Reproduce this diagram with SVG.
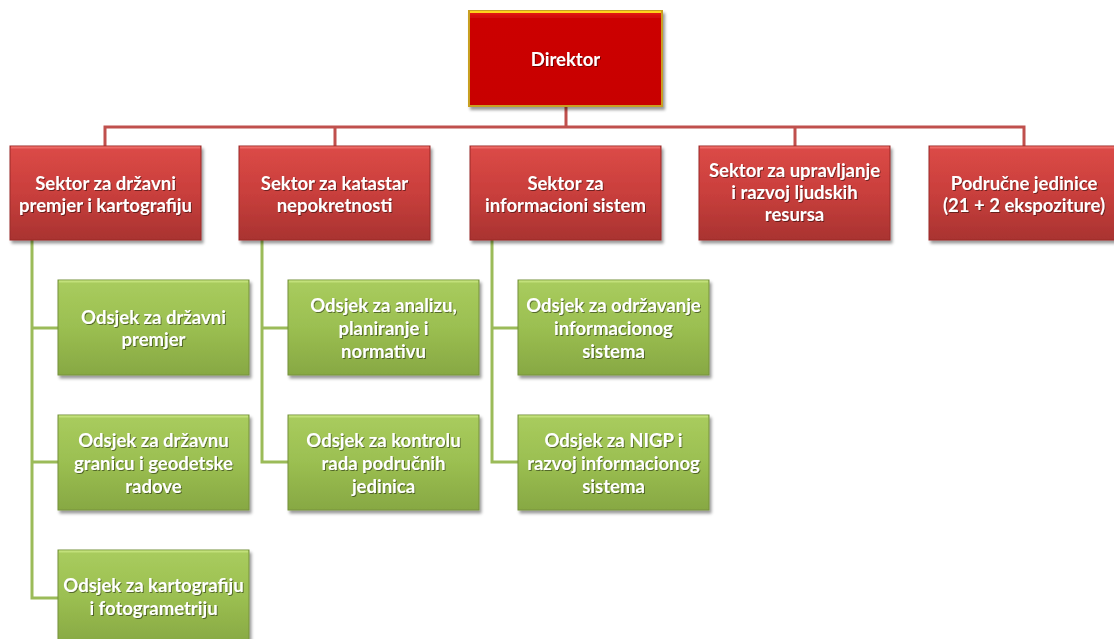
<svg xmlns="http://www.w3.org/2000/svg" width="1114" height="639" viewBox="0 0 1114 639">
<style>
.t{font-family:Lato,"Open Sans","Liberation Sans",sans-serif;font-weight:bold;font-size:18.5px;fill:#fff;text-anchor:middle}
.red{fill:url(#gRed);stroke:#9a2a28;stroke-width:1}
.grn{fill:url(#gGrn);stroke:#76923c;stroke-width:1}
.hl{fill:none;stroke-width:2}
.cr{fill:none;stroke:#c0504d;stroke-width:3}
.cg{fill:none;stroke:#9bbb59;stroke-width:3}
</style>
<defs>
<linearGradient id="gRed" x1="0" y1="0" x2="0" y2="1">
<stop offset="0" stop-color="#dc4a47"/>
<stop offset="0.5" stop-color="#c93f3c"/>
<stop offset="1" stop-color="#a93331"/>
</linearGradient>
<linearGradient id="gGrn" x1="0" y1="0" x2="0" y2="1">
<stop offset="0" stop-color="#a9cc5e"/>
<stop offset="0.5" stop-color="#9bbf51"/>
<stop offset="1" stop-color="#87a843"/>
</linearGradient>
<linearGradient id="gDir" x1="0" y1="0" x2="0" y2="1">
<stop offset="0" stop-color="#e8201c"/>
<stop offset="0.08" stop-color="#cc0404"/>
<stop offset="1" stop-color="#c80000"/>
</linearGradient>
<filter id="sh" x="-10%" y="-10%" width="120%" height="130%">
<feDropShadow dx="2" dy="3" stdDeviation="1.5" flood-color="#000" flood-opacity="0.4"/>
</filter>
<filter id="ts" x="-10%" y="-20%" width="120%" height="150%">
<feDropShadow dx="1" dy="1" stdDeviation="0.6" flood-color="#000" flood-opacity="0.45"/>
</filter>
</defs>

<g id="connectors">
<path class="cr" d="M566 106 V127 M105 146 V127 H1024 V146 M335 127 V146 M795 127 V146"/>
<path class="cg" d="M32 240 V598 H58 M32 328 H58 M32 462 H58"/>
<path class="cg" d="M262 240 V462 H288 M262 328 H288"/>
<path class="cg" d="M492 240 V462 H518 M492 328 H518"/>
</g>

<g id="direktor" filter="url(#sh)">
<rect x="469" y="11" width="193" height="95" fill="url(#gDir)" stroke="#c8a020" stroke-width="2"/>
<line x1="470" y1="12" x2="661" y2="12" stroke="#ffd21a" stroke-width="2"/>
<text class="t" x="565.5" y="66" filter="url(#ts)">Direktor</text>
</g>

<g id="sektor1" filter="url(#sh)">
<rect class="red" x="10" y="146" width="191" height="94"/>
<line class="hl" x1="11" y1="147.5" x2="200" y2="147.5" stroke="#ec6a66"/>
<text class="t" filter="url(#ts)"><tspan x="105.5" y="190">Sektor za državni</tspan><tspan x="105.5" y="212">premjer i kartografiju</tspan></text>
</g>
<g id="sektor2" filter="url(#sh)">
<rect class="red" x="239" y="146" width="191" height="94"/>
<line class="hl" x1="240" y1="147.5" x2="429" y2="147.5" stroke="#ec6a66"/>
<text class="t" filter="url(#ts)"><tspan x="334.5" y="190">Sektor za katastar</tspan><tspan x="334.5" y="212">nepokretnosti</tspan></text>
</g>
<g id="sektor3" filter="url(#sh)">
<rect class="red" x="470" y="146" width="191" height="94"/>
<line class="hl" x1="471" y1="147.5" x2="660" y2="147.5" stroke="#ec6a66"/>
<text class="t" filter="url(#ts)"><tspan x="565.5" y="190">Sektor za</tspan><tspan x="565.5" y="212">informacioni sistem</tspan></text>
</g>
<g id="sektor4" filter="url(#sh)">
<rect class="red" x="699" y="146" width="191" height="94"/>
<line class="hl" x1="700" y1="147.5" x2="889" y2="147.5" stroke="#ec6a66"/>
<text class="t" filter="url(#ts)"><tspan x="794.5" y="177">Sektor za upravljanje</tspan><tspan x="794.5" y="199">i razvoj ljudskih</tspan><tspan x="794.5" y="221">resursa</tspan></text>
</g>
<g id="sektor5" filter="url(#sh)">
<rect class="red" x="929" y="146" width="191" height="94"/>
<line class="hl" x1="930" y1="147.5" x2="1119" y2="147.5" stroke="#ec6a66"/>
<text class="t" filter="url(#ts)"><tspan x="1024" y="190">Područne jedinice</tspan><tspan x="1024" y="212">(21 + 2 ekspoziture)</tspan></text>
</g>

<g id="odsjek1a" filter="url(#sh)">
<rect class="grn" x="58" y="280" width="191" height="95"/>
<line class="hl" x1="59" y1="281.5" x2="248" y2="281.5" stroke="#c2e07a"/>
<text class="t" filter="url(#ts)"><tspan x="153.5" y="324">Odsjek za državni</tspan><tspan x="153.5" y="346">premjer</tspan></text>
</g>
<g id="odsjek1b" filter="url(#sh)">
<rect class="grn" x="58" y="415" width="191" height="95"/>
<line class="hl" x1="59" y1="416.5" x2="248" y2="416.5" stroke="#c2e07a"/>
<text class="t" filter="url(#ts)"><tspan x="153.5" y="447">Odsjek za državnu</tspan><tspan x="153.5" y="470">granicu i geodetske</tspan><tspan x="153.5" y="493">radove</tspan></text>
</g>
<g id="odsjek1c" filter="url(#sh)">
<rect class="grn" x="58" y="550" width="191" height="95"/>
<line class="hl" x1="59" y1="551.5" x2="248" y2="551.5" stroke="#c2e07a"/>
<text class="t" filter="url(#ts)"><tspan x="153.5" y="592">Odsjek za kartografiju</tspan><tspan x="153.5" y="615">i fotogrametriju</tspan></text>
</g>

<g id="odsjek2a" filter="url(#sh)">
<rect class="grn" x="288" y="280" width="191" height="95"/>
<line class="hl" x1="289" y1="281.5" x2="478" y2="281.5" stroke="#c2e07a"/>
<text class="t" filter="url(#ts)"><tspan x="383.5" y="312">Odsjek za analizu,</tspan><tspan x="383.5" y="335">planiranje i</tspan><tspan x="383.5" y="358">normativu</tspan></text>
</g>
<g id="odsjek2b" filter="url(#sh)">
<rect class="grn" x="288" y="415" width="191" height="95"/>
<line class="hl" x1="289" y1="416.5" x2="478" y2="416.5" stroke="#c2e07a"/>
<text class="t" filter="url(#ts)"><tspan x="383.5" y="447">Odsjek za kontrolu</tspan><tspan x="383.5" y="470">rada područnih</tspan><tspan x="383.5" y="493">jedinica</tspan></text>
</g>

<g id="odsjek3a" filter="url(#sh)">
<rect class="grn" x="518" y="280" width="191" height="95"/>
<line class="hl" x1="519" y1="281.5" x2="708" y2="281.5" stroke="#c2e07a"/>
<text class="t" filter="url(#ts)"><tspan x="613.5" y="312">Odsjek za održavanje</tspan><tspan x="613.5" y="335">informacionog</tspan><tspan x="613.5" y="358">sistema</tspan></text>
</g>
<g id="odsjek3b" filter="url(#sh)">
<rect class="grn" x="518" y="415" width="191" height="95"/>
<line class="hl" x1="519" y1="416.5" x2="708" y2="416.5" stroke="#c2e07a"/>
<text class="t" filter="url(#ts)"><tspan x="613.5" y="447">Odsjek za NIGP i</tspan><tspan x="613.5" y="470">razvoj informacionog</tspan><tspan x="613.5" y="493">sistema</tspan></text>
</g>
</svg>
